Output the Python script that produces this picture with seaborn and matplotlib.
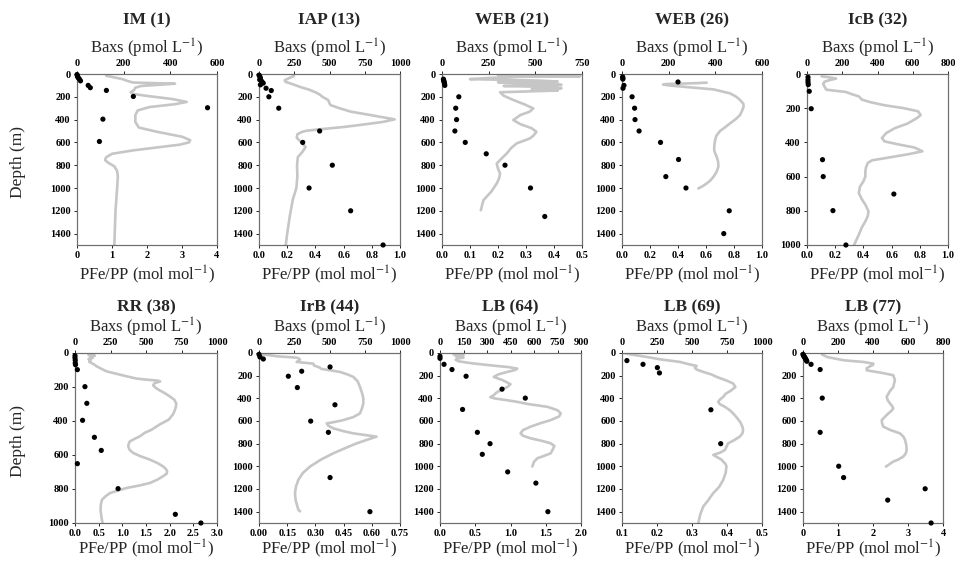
import matplotlib
matplotlib.use('Agg')
import matplotlib.pyplot as plt
import seaborn as sns
import numpy as np

sns.set_style('ticks')
plt.rcParams['font.family'] = ['Liberation Serif', 'DejaVu Serif']
plt.rcParams['mathtext.fontset'] = 'stix'

# ---- IM (1)
im_dot_depth = [5, 15, 25, 35, 45, 60, 100, 120, 144, 197, 296, 396, 592]
im_dot_pfe = [0.0, 0.01, 0.02, 0.04, 0.07, 0.1, 0.32, 0.38, 0.84, 1.61, 3.73, 0.74, 0.64]
im_line_depth = [15, 30, 45, 60, 75, 85, 95, 105, 120, 140, 160, 175, 195, 220, 245, 265, 290,
                 320, 360, 420, 470, 510, 550, 580, 600, 620, 645, 670, 700, 730, 755, 780, 810,
                 850, 900, 1000, 1200, 1500]
im_line_baxs = [125, 160, 195, 215, 240, 420, 350, 275, 250, 245, 230, 240, 310, 410, 470, 420, 310,
                260, 250, 250, 265, 350, 450, 485, 480, 440, 340, 240, 150, 125, 120, 135, 160,
                172, 175, 172, 165, 160]

# ---- IAP (13)
iap_dot_depth = [10, 20, 35, 50, 65, 80, 95, 125, 145, 200, 300, 500, 600, 800, 1000, 1200, 1500]
iap_dot_pfe = [0.0, 0.005, 0.01, 0.005, 0.02, 0.03, 0.01, 0.05, 0.087, 0.07, 0.14, 0.43, 0.31,
               0.52, 0.355, 0.65, 0.88]
iap_line_depth = [18, 35, 55, 70, 90, 117, 135, 160, 180, 200, 228, 272, 300, 330, 360, 398, 420,
                  440, 465, 485, 498, 510, 530, 560, 600, 640, 680, 730, 800, 900, 1000, 1100,
                  1250, 1400, 1500]
iap_line_baxs = [248, 215, 182, 190, 240, 300, 350, 400, 430, 450, 490, 506, 570, 650, 790, 962,
                 880, 760, 600, 430, 336, 300, 272, 268, 300, 330, 310, 275, 270, 272, 265, 240,
                 218, 200, 190]

# ---- WEB (21)
web21_dot_depth = [45, 55, 65, 75, 85, 100, 200, 300, 400, 500, 600, 700, 800, 1000, 1250]
web21_dot_pfe = [0.005, 0.006, 0.007, 0.008, 0.009, 0.01, 0.06, 0.049, 0.052, 0.046, 0.083,
                 0.158, 0.225, 0.316, 0.367]
web21_line_depth = [10, 15, 20, 25, 35, 45, 50, 58, 66, 72, 80, 88, 96, 105, 115, 125, 135, 145,
                    160, 190, 228, 265, 302, 330, 360, 404, 440, 475, 507, 540, 565, 609, 650,
                    697, 740, 785, 830, 873, 920, 960, 1030, 1107, 1150, 1195]
web21_line_baxs = [300, 560, 740, 400, 250, 150, 300, 520, 620, 300, 400, 610, 640, 330, 600, 640,
                   480, 620, 311, 330, 382, 440, 489, 470, 420, 382, 420, 480, 506, 490, 471, 400,
                   370, 347, 320, 293, 300, 311, 305, 293, 265, 222, 215, 208]

# ---- WEB (26)
web26_dot_depth = [25, 35, 45, 70, 100, 125, 200, 300, 400, 500, 600, 750, 900, 1000, 1200, 1400]
web26_dot_pfe = [0.005, 0.006, 0.006, 0.40, 0.014, 0.007, 0.072, 0.09, 0.093, 0.122, 0.275,
                 0.404, 0.313, 0.457, 0.766, 0.727]
web26_line_depth = [76, 80, 84, 88, 92, 100, 117, 135, 170, 200, 228, 260, 287, 320, 360, 400,
                    433, 470, 500, 540, 580, 620, 668, 700, 726, 770, 814, 860, 902, 935, 960,
                    985, 1004]
web26_line_baxs = [363, 320, 260, 190, 176, 200, 291, 392, 463, 490, 506, 520, 521, 515, 506, 485,
                   463, 440, 420, 405, 399, 396, 395, 400, 406, 412, 413, 405, 392, 378, 363,
                   345, 327]

# ---- IcB (32)
icb_dot_depth = [19, 35, 49, 62, 101, 203, 501, 600, 702, 799, 1000]
icb_dot_pfe = [0.007, 0.007, 0.007, 0.009, 0.016, 0.03, 0.11, 0.115, 0.616, 0.184, 0.276]
icb_line_depth = [14, 20, 27, 35, 45, 58, 75, 92, 105, 120, 131, 150, 165, 183, 200, 218, 240,
                  257, 290, 316, 345, 374, 394, 410, 430, 452, 470, 491, 505, 520, 545, 569, 600,
                  628, 660, 696, 730, 764, 803, 830, 862, 900, 940, 999]
icb_line_baxs = [83, 130, 165, 130, 100, 92, 100, 110, 220, 260, 294, 312, 360, 441, 550, 630,
                 645, 625, 570, 500, 450, 425, 440, 510, 610, 655, 570, 450, 368, 345, 335, 331,
                 331, 320, 300, 294, 310, 331, 349, 345, 331, 310, 294, 267]

# ---- RR (38)
rr_dot_depth = [16, 29, 43, 59, 69, 98, 198, 296, 396, 496, 573, 651, 798, 949, 1000]
rr_dot_pfe = [0.0, 0.0, 0.005, 0.005, 0.01, 0.05, 0.21, 0.25, 0.16, 0.41, 0.555, 0.05, 0.91,
              2.12, 2.66]
rr_line_depth = [10, 16, 22, 29, 36, 43, 52, 65, 78, 95, 108, 122, 137, 150, 157, 162, 167, 178,
                 190, 206, 220, 235, 255, 275, 300, 333, 360, 392, 420, 451, 470, 490, 505, 520,
                 535, 549, 570, 588, 607, 627, 647, 667, 682, 696, 710, 725, 745, 765, 780, 794,
                 810, 824, 843, 863, 890, 922, 960, 1000]
rr_line_baxs = [94, 140, 105, 125, 95, 110, 100, 130, 152, 190, 223, 290, 363, 430, 504, 580,
                600, 560, 550, 570, 597, 630, 667, 700, 714, 705, 691, 660, 597, 540, 490, 457,
                420, 386, 378, 375, 385, 410, 460, 527, 580, 620, 640, 649, 645, 620, 580, 527,
                450, 363, 300, 246, 215, 190, 182, 180, 185, 194]

# ---- IrB (44)
irb_dot_depth = [12, 35, 53, 123, 161, 205, 305, 457, 601, 700, 1099, 1400]
irb_dot_pfe = [0.0, 0.005, 0.023, 0.378, 0.227, 0.156, 0.204, 0.404, 0.275, 0.369, 0.378, 0.59]
irb_line_depth = [12, 20, 29, 41, 50, 59, 70, 79, 94, 110, 129, 140, 152, 167, 190, 211, 250,
                  299, 350, 400, 445, 490, 533, 565, 592, 610, 621, 640, 665, 690, 709, 725, 738,
                  760, 797, 840, 885, 940, 1002, 1060, 1119, 1180, 1236, 1300, 1383, 1397]
irb_line_baxs = [7, 78, 125, 267, 285, 291, 280, 267, 385, 390, 432, 440, 503, 574, 630, 669,
                 700, 716, 730, 740, 740, 730, 716, 670, 598, 530, 480, 490, 527, 600, 669, 760,
                 834, 780, 693, 610, 527, 440, 362, 310, 279, 262, 255, 260, 279, 291]

# ---- LB (64)
lb64_dot_depth = [29, 47, 100, 146, 205, 319, 398, 498, 700, 800, 894, 1049, 1148, 1400]
lb64_dot_pfe = [0.0, 0.0, 0.057, 0.17, 0.37, 0.88, 1.21, 0.32, 0.53, 0.71, 0.6, 0.96, 1.36, 1.53]
lb64_line_depth = [12, 20, 28, 35, 41, 50, 60, 73, 90, 110, 125, 138, 150, 170, 190, 211, 240,
                   275, 300, 328, 350, 372, 390, 401, 415, 431, 450, 475, 505, 533, 560, 592,
                   620, 650, 680, 709, 730, 753, 775, 797, 820, 850, 885, 910, 929, 960, 1002]
lb64_line_baxs = [86, 150, 100, 140, 150, 110, 100, 118, 200, 330, 440, 493, 480, 420, 370, 343,
                  400, 450, 430, 386, 360, 343, 321, 350, 420, 493, 560, 686, 750, 771, 760, 707,
                  640, 579, 530, 514, 530, 579, 650, 707, 730, 720, 707, 660, 621, 600, 589]

# ---- LB (69)
lb69_dot_depth = [67, 100, 129, 176, 501, 800]
lb69_dot_pfe = [0.114, 0.16, 0.201, 0.207, 0.354, 0.382]
lb69_line_depth = [0, 12, 35, 56, 79, 100, 114, 130, 146, 167, 190, 211, 240, 269, 300, 330, 360,
                   387, 410, 431, 452, 475, 505, 533, 570, 610, 650, 680, 710, 738, 770, 797,
                   830, 856, 880, 899, 920, 940, 958, 980, 1002, 1060, 1119, 1180, 1236, 1300,
                   1354, 1420, 1500]
lb69_line_baxs = [12, 59, 178, 273, 415, 480, 533, 520, 533, 581, 640, 676, 740, 794, 810, 780,
                  740, 723, 700, 687, 700, 735, 770, 794, 820, 845, 860, 865, 860, 841, 800, 758,
                  745, 735, 700, 652, 680, 710, 723, 740, 746, 740, 723, 695, 652, 615, 581, 560,
                  545]

# ---- LB (77)
lb77_dot_depth = [12, 20, 26, 33, 41, 48, 56, 65, 73, 100, 146, 398, 700, 999, 1099, 1198, 1298,
                  1500]
lb77_dot_pfe = [0.0, 0.01, 0.02, 0.04, 0.05, 0.07, 0.08, 0.1, 0.11, 0.23, 0.49, 0.55, 0.49, 1.02,
                1.16, 3.49, 2.42, 3.66]
lb77_line_depth = [12, 35, 64, 79, 94, 105, 117, 135, 152, 160, 175, 196, 240, 299, 340, 387,
                   420, 445, 470, 489, 510, 533, 560, 592, 620, 650, 680, 709, 740, 767, 810,
                   855, 885, 914, 940, 958, 980, 1002]
lb77_line_baxs = [108, 137, 231, 345, 402, 400, 383, 364, 364, 390, 450, 516, 525, 516, 495, 478,
                  485, 497, 510, 516, 505, 488, 470, 450, 452, 459, 500, 554, 575, 583, 590, 592,
                  588, 573, 545, 516, 495, 474]

titles = ['IM (1)', 'IAP (13)', 'WEB (21)', 'WEB (26)', 'IcB (32)',
          'RR (38)', 'IrB (44)', 'LB (64)', 'LB (69)', 'LB (77)']
dot_depths = [im_dot_depth, iap_dot_depth, web21_dot_depth, web26_dot_depth, icb_dot_depth,
              rr_dot_depth, irb_dot_depth, lb64_dot_depth, lb69_dot_depth, lb77_dot_depth]
dot_pfes = [im_dot_pfe, iap_dot_pfe, web21_dot_pfe, web26_dot_pfe, icb_dot_pfe,
            rr_dot_pfe, irb_dot_pfe, lb64_dot_pfe, lb69_dot_pfe, lb77_dot_pfe]
line_depths = [im_line_depth, iap_line_depth, web21_line_depth, web26_line_depth, icb_line_depth,
               rr_line_depth, irb_line_depth, lb64_line_depth, lb69_line_depth, lb77_line_depth]
line_baxs = [im_line_baxs, iap_line_baxs, web21_line_baxs, web26_line_baxs, icb_line_baxs,
             rr_line_baxs, irb_line_baxs, lb64_line_baxs, lb69_line_baxs, lb77_line_baxs]

# axis ranges (min, max, step) and tick formats
pfe_axes = [(0, 4, 1), (0, 1.0, 0.2), (0, 0.5, 0.1), (0, 1.0, 0.2), (0, 1.0, 0.2),
            (0, 3.0, 0.5), (0, 0.75, 0.15), (0, 2.0, 0.5), (0.1, 0.5, 0.1), (0, 4, 1)]
pfe_fmt = ['{:.0f}', '{:.1f}', '{:.1f}', '{:.1f}', '{:.1f}',
           '{:.1f}', '{:.2f}', '{:.1f}', '{:.1f}', '{:.0f}']
baxs_axes = [(600, 200), (1000, 250), (750, 250), (600, 200), (800, 200),
             (1000, 250), (1000, 250), (900, 150), (1000, 250), (800, 200)]
depth_max = [1500, 1500, 1500, 1500, 1000, 1000, 1500, 1500, 1500, 1500]

# panel layout in pixels: left, top, width, height
W, H = 955, 561
boxes = [(77, 74, 140, 171), (259, 74, 141, 171), (442, 74, 140, 171), (622, 74, 140, 171),
         (807, 74, 141, 171),
         (75, 353, 142, 170), (259, 353, 141, 170), (440, 353, 141, 170), (622, 353, 140, 170),
         (803, 353, 140, 170)]

fig = plt.figure(figsize=(W / 100, H / 100), dpi=100)
tick_kw = dict(fontsize=7.5, fontweight='bold')
spine_col = '#6e6e6e'

for i in range(10):
    l, t, w, h = boxes[i]
    ax = fig.add_axes([l / W, 1 - (t + h) / H, w / W, h / H])
    ax2 = ax.twiny()

    # Baxs profile on the top axis
    sns.lineplot(x=line_baxs[i], y=line_depths[i], ax=ax, sort=False, estimator=None,
                 color='#c6c6c6', linewidth=1.9)
    bmax, bstep = baxs_axes[i]
    ax.set_xlim(0, bmax)
    bt = np.arange(0, bmax + 1, bstep)
    ax.set_xticks(bt)
    ax.set_xticklabels([str(int(v)) for v in bt], **tick_kw)
    ax.xaxis.tick_top()

    # PFe/PP points on the bottom axis
    sns.scatterplot(x=dot_pfes[i], y=dot_depths[i], ax=ax2, color='black', s=14,
                    edgecolor='none', clip_on=False, zorder=5)
    pmin, pmax, pstep = pfe_axes[i]
    ax2.set_xlim(pmin, pmax)
    pt = np.arange(pmin, pmax + pstep / 2, pstep)
    ax2.set_xticks(pt)
    ax2.set_xticklabels([pfe_fmt[i].format(v) for v in pt], **tick_kw)
    ax2.xaxis.tick_bottom()

    dm = depth_max[i]
    ax.set_ylim(dm, 0)
    yt = np.arange(0, dm, 200) if dm == 1500 else np.arange(0, dm + 1, 200)
    ax.set_yticks(yt)
    ax.set_yticklabels([str(int(v)) for v in yt], **tick_kw)

    for a in (ax, ax2):
        a.set_xlabel('')
        a.set_ylabel('')
        a.tick_params(length=2.5, width=0.6, pad=2, colors='black')
        for s in a.spines.values():
            s.set_visible(True)
            s.set_color(spine_col)
            s.set_linewidth(0.8)

    cx = (l + w / 2) / W
    row2 = t > 200
    fig.text(cx, 1 - (307 if row2 else 20) / H, titles[i], ha='center', va='center',
             fontsize=12.5, fontweight='bold')
    fig.text(cx, 1 - (327 if row2 else 48) / H, 'Baxs (pmol L$^{-1}$)', ha='center',
             va='center', fontsize=12)
    fig.text(cx, 1 - (549 if row2 else 275) / H, 'PFe/PP (mol mol$^{-1}$)', ha='center',
             va='center', fontsize=12)
    if l < 100:
        fig.text(18 / W, 1 - (t + h / 2 + 3) / H, 'Depth (m)', rotation=90, ha='center',
                 va='center', fontsize=12.5)

fig.savefig('out.png', dpi=100)
